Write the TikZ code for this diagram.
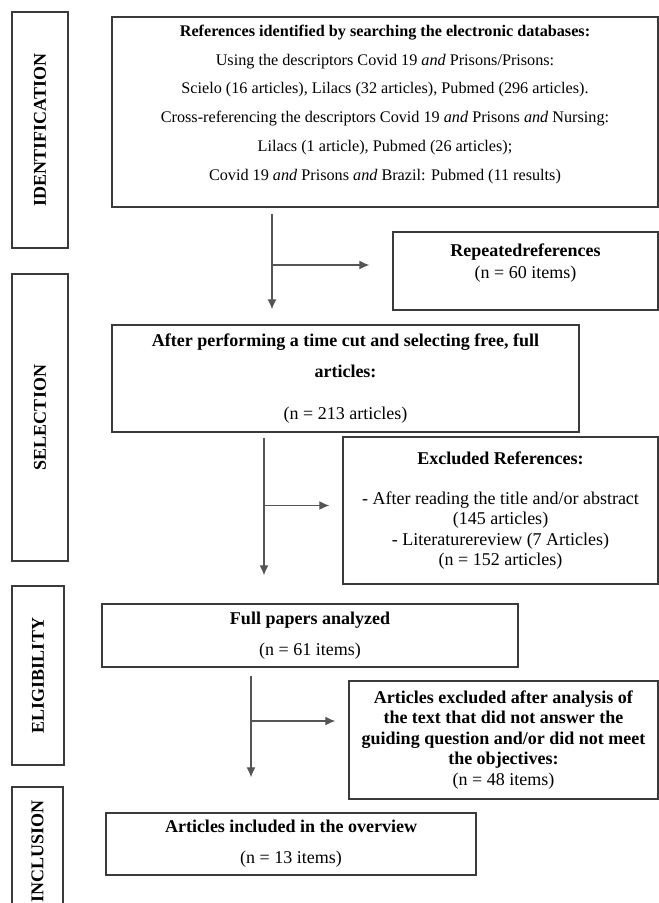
\documentclass[tikz,border=0pt]{standalone}
\usepackage{fontspec}
\setmainfont{Liberation Serif}
\usetikzlibrary{arrows.meta}
\definecolor{boxgray}{HTML}{3A3A3A}
\definecolor{linegray}{HTML}{555555}
\tikzset{
  box/.style={draw=boxgray, line width=1.4pt, align=center, inner sep=0pt},
  phase/.style={draw=boxgray, line width=1.4pt, inner sep=0pt, rotate=90,
    font=\bfseries\fontsize{18}{20}\selectfont},
  flow/.style={draw=linegray, line width=1.3pt, -{Latex[length=10pt,width=9pt]}}
}
\begin{document}
\begin{tikzpicture}[x=1pt, y=-1pt]
\clip (0, 0) rectangle (659, 903);
\node[phase, minimum width=236, minimum height=56] (idf) at (40, 130) {IDENTIFICATION};
\node[phase, minimum width=287, minimum height=56] (slc) at (40, 417.5) {SELECTION};
\node[phase, minimum width=179, minimum height=52] (elg) at (38, 675.5) {ELIGIBILITY};
\node[phase, minimum width=128, minimum height=51] (inc) at (37.5, 851) {INCLUSION};

\node[box, minimum width=546, minimum height=190, font=\fontsize{16.2}{28.8}\selectfont] (search) at (385, 112)
{\textbf{References identified by searching the electronic databases:}\\
Using the descriptors Covid 19 \textit{and} Prisons/Prisons:\\
Scielo (16 articles), Lilacs (32 articles), Pubmed (296 articles).\\
Cross-referencing the descriptors Covid 19 \textit{and} Prisons \textit{and} Nursing:\\
Lilacs (1 article), Pubmed (26 articles);\\
Covid 19 \textit{and} Prisons \textit{and} Brazil: Pubmed (11 results)\rule[-19pt]{0pt}{19pt}};
\node[box, minimum width=265, minimum height=78, font=\fontsize{18}{22}\selectfont] (repeated) at (525.5, 271)
{\textbf{Repeatedreferences}\\ (n = 60 items)\rule[-20pt]{0pt}{20pt}};
\node[box, minimum width=467, minimum height=107, font=\fontsize{18}{31}\selectfont] (cut) at (345.5, 378.5)
{\textbf{After performing a time cut and selecting free, full}\\
\textbf{articles:}\\[11pt] (n = 213 articles)};
\node[box, minimum width=315, minimum height=147, font=\fontsize{18}{20.5}\selectfont] (excluded) at (500.5, 510.5)
{\textbf{Excluded References:}\\[19.5pt]
- After reading the title and/or abstract\\ (145 articles)\\
- Literaturereview (7 Articles)\\ (n = 152 articles)};
\node[box, minimum width=416, minimum height=63, font=\fontsize{18}{31}\selectfont] (full) at (310, 635.5)
{\textbf{Full papers analyzed}\\ (n = 61 items)};
\node[box, minimum width=309, minimum height=118, font=\fontsize{18}{20.5}\selectfont] (notmet) at (503.5, 740)
{\textbf{Articles excluded after analysis of}\\ \textbf{the text that did not answer the}\\
\textbf{guiding question and/or did not meet}\\ \textbf{the objectives:}\\ (n = 48 items)};
\node[box, minimum width=370, minimum height=62, font=\fontsize{18}{31}\selectfont] (included) at (291, 844)
{\textbf{Articles included in the overview}\\ (n = 13 items)};

\coordinate (s1) at (272, 265);
\coordinate (s2) at (264, 505.5);
\coordinate (s3) at (251, 721);
\draw[flow, shorten <=6pt, shorten >=15pt] (search.south -| s1) -- (cut.north -| s1);
\draw[flow, shorten >=23pt] (s1) -- (repeated.west |- s1);
\draw[flow, shorten <=5pt, shorten >=28pt] (cut.south -| s2) -- (full.north -| s2);
\draw[flow, shorten >=13pt] (s2) -- (excluded.west |- s2);
\draw[flow, shorten <=8pt, shorten >=35pt] (full.south -| s3) -- (included.north -| s3);
\draw[flow, shorten >=13pt] (s3) -- (notmet.west |- s3);
\end{tikzpicture}
\end{document}
